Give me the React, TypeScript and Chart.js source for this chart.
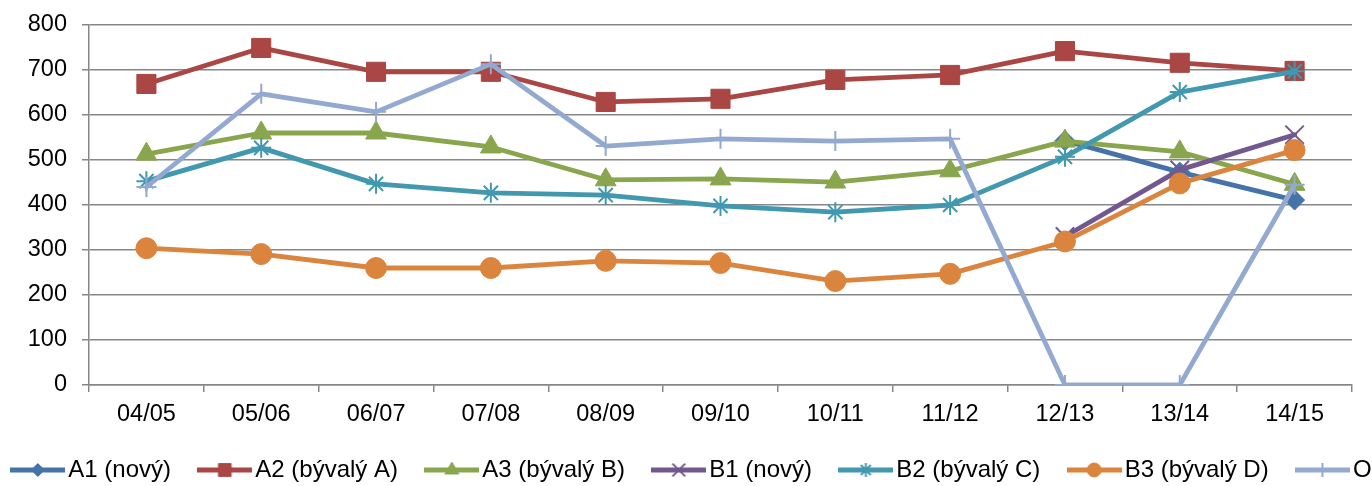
import React, { useEffect, useRef } from 'react';
import { Chart, registerables } from 'chart.js';
import { drawPoint } from 'chart.js/helpers';

Chart.register(...registerables);

const categories = ['04/05', '05/06', '06/07', '07/08', '08/09', '09/10', '10/11', '11/12', '12/13', '13/14', '14/15'];

const seriesNames = ['A1 (nový)', 'A2 (bývalý A)', 'A3 (bývalý B)', 'B1 (nový)', 'B2 (bývalý C)', 'B3 (bývalý D)', 'O'];

const valuesA1 = [null, null, null, null, null, null, null, null, 543, 473, 411];
const valuesA2 = [669, 749, 696, 696, 629, 636, 678, 689, 742, 716, 698];
const valuesA3 = [513, 560, 560, 529, 456, 458, 451, 476, 542, 518, 446];
const valuesB1 = [null, null, null, null, null, null, null, null, 330, 478, 556];
const valuesB2 = [453, 527, 447, 427, 422, 398, 384, 400, 507, 651, 697];
const valuesB3 = [304, 291, 260, 260, 276, 271, 231, 247, 319, 448, 522];
const valuesO = [440, 647, 607, 713, 531, 547, 542, 547, 0, 0, 445];

const yTickMin = 0;
const yTickMax = 800;
const yTickStep = 100;

const seriesValues = [valuesA1, valuesA2, valuesA3, valuesB1, valuesB2, valuesB3, valuesO];

const seriesColors = ['#4572A7', '#AA4643', '#89A54E', '#71588F', '#4198AF', '#DB843D', '#93A9CF'];

const markerStyles = [
  { style: 'rectRot', r: 10, bw: 1, lr: 6.5 },
  { style: 'rect', r: 13.5, bw: 1, lr: 9 },
  { style: 'triangle', r: 12, bw: 1, lr: 8 },
  { style: 'crossRot', r: 13, bw: 2, lr: 9 },
  { style: 'star', r: 10, bw: 2, lr: 7 },
  { style: 'circle', r: 10.5, bw: 1, lr: 7 },
  { style: 'cross', r: 10, bw: 2, lr: 7 },
];

const FONT = 'Liberation Sans, Arial, sans-serif';
const GRID = '#878787';

function makeIcon(color: string, m: any) {
  const c = document.createElement('canvas');
  c.width = 55;
  c.height = 24;
  const ctx = c.getContext('2d')!;
  ctx.strokeStyle = color;
  ctx.fillStyle = color;
  ctx.lineWidth = 5;
  ctx.beginPath();
  ctx.moveTo(0, 12);
  ctx.lineTo(55, 12);
  ctx.stroke();
  ctx.lineWidth = m.bw;
  drawPoint(ctx, { pointStyle: m.style, radius: m.lr, rotation: 0, borderWidth: m.bw } as any, 27.5, 12);
  return c;
}

export default function App() {
  const ref = useRef<HTMLCanvasElement>(null);

  useEffect(() => {
    const canvas = ref.current!;
    const icons = markerStyles.map((m, i) => makeIcon(seriesColors[i], m));
    const datasets = seriesValues.map((data, i) => ({
      label: seriesNames[i],
      data,
      borderColor: seriesColors[i],
      backgroundColor: seriesColors[i],
      borderWidth: 4.8,
      borderJoinStyle: 'round' as const,
      borderCapStyle: 'round' as const,
      pointStyle: markerStyles[i].style as any,
      pointRadius: markerStyles[i].r,
      pointHoverRadius: markerStyles[i].r,
      pointBorderWidth: markerStyles[i].bw,
      pointBackgroundColor: seriesColors[i],
      pointBorderColor: seriesColors[i],
      tension: 0,
      order: seriesValues.length - 1 - i,
    }));

    const chart = new Chart(canvas, {
      type: 'line',
      data: { labels: categories, datasets },
      options: {
        animation: false,
        responsive: true,
        maintainAspectRatio: false,
        devicePixelRatio: 1,
        events: [],
        layout: { padding: { top: 25, left: 0, right: 0, bottom: 0 } },
        plugins: {
          tooltip: { enabled: false },
          legend: {
            position: 'bottom',
            align: 'start',
            labels: {
              usePointStyle: true,
              pointStyleWidth: 37,
              padding: 35.3,
              color: '#000',
              font: { family: FONT, size: 24 },
              sort: (a: any, b: any) => a.datasetIndex - b.datasetIndex,
              generateLabels: (c: any) =>
                (Chart.defaults.plugins.legend.labels.generateLabels as any)(c).map((l: any) => ({
                  ...l,
                  pointStyle: icons[l.datasetIndex],
                })),
            },
          },
        },
        scales: {
          x: {
            offset: true,
            grid: { offset: true, drawOnChartArea: false, drawTicks: true, tickLength: 7, color: GRID, lineWidth: 1.5 },
            border: { color: GRID, width: 1.5 },
            ticks: { padding: 8, color: '#000', font: { family: FONT, size: 23.5 }, maxRotation: 0, autoSkip: false },
            afterFit: (s: any) => {
              s.height = 37.7;
            },
          },
          y: {
            min: yTickMin,
            max: yTickMax,
            ticks: { stepSize: yTickStep, padding: 15, color: '#000', font: { family: FONT, size: 23.5 } },
            grid: { tickLength: 7, color: GRID, lineWidth: 1.5 },
            border: { color: GRID, width: 1.5 },
            afterFit: (s: any) => {
              s.width = 105;
              s.paddingTop = 0;
              s.paddingBottom = 0;
            },
          },
          yR: {
            position: 'right',
            display: true,
            grid: { display: false },
            ticks: { display: false },
            border: { display: false },
            afterFit: (s: any) => {
              s.width = 132;
              s.paddingTop = 0;
              s.paddingBottom = 0;
            },
          },
        },
      } as any,
    });
    return () => chart.destroy();
  }, []);

  return (
    <div style={{ position: 'fixed', left: 0, top: 0, width: 1372, height: 486, overflow: 'hidden', background: '#fff' }}>
      <div style={{ position: 'absolute', left: -16, top: 0, width: 1500, height: 492 }}>
        <canvas ref={ref} />
      </div>
    </div>
  );
}
